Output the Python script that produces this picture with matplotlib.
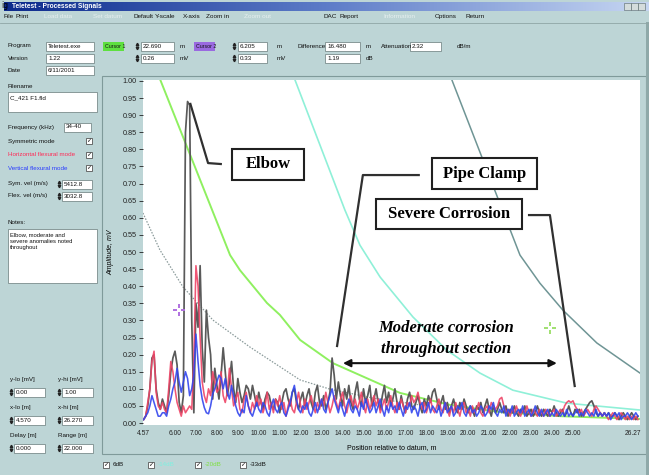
import numpy as np
import matplotlib
matplotlib.use("Agg")
import matplotlib.pyplot as plt
import matplotlib.patches as patches
from matplotlib.colors import LinearSegmentedColormap

# ---------------- data ----------------
pos_start, pos_step = 4.5, 0.1   # trace sampling, m

# symmetric mode (grey/black trace), mV
sym_amp = [
    0.01, 0.02, 0.05, 0.10, 0.19, 0.20, 0.10, 0.06, 0.04, 0.07,
    0.05, 0.03, 0.08, 0.15, 0.19, 0.21, 0.17, 0.06, 0.03, 0.08,
    0.85, 0.94, 0.93, 0.30, 0.03, 0.35, 0.28, 0.46, 0.22, 0.12,
    0.33, 0.25, 0.20, 0.07, 0.16, 0.11, 0.07, 0.14, 0.22, 0.15,
    0.08, 0.12, 0.18, 0.10, 0.06, 0.13, 0.09, 0.06, 0.08, 0.11,
    0.10, 0.07, 0.11, 0.08, 0.05, 0.09, 0.06, 0.04, 0.07, 0.09,
    0.08, 0.05, 0.04, 0.07, 0.06, 0.03, 0.06, 0.09, 0.10, 0.07,
    0.05, 0.09, 0.10, 0.06, 0.04, 0.07, 0.09, 0.05, 0.08, 0.10,
    0.06, 0.04, 0.09, 0.11, 0.06, 0.05, 0.08, 0.04, 0.06, 0.09,
    0.19, 0.14, 0.07, 0.12, 0.08, 0.05, 0.10, 0.07, 0.11, 0.06,
    0.04, 0.09, 0.12, 0.07, 0.05, 0.10, 0.06, 0.08, 0.11, 0.05,
    0.07, 0.10, 0.06, 0.04, 0.08, 0.11, 0.06, 0.09, 0.05, 0.07,
    0.10, 0.06, 0.04, 0.08, 0.05, 0.03, 0.07, 0.09, 0.05, 0.04,
    0.06, 0.08, 0.05, 0.03, 0.07, 0.05, 0.08, 0.06, 0.09, 0.10,
    0.07, 0.04, 0.06, 0.08, 0.04, 0.06, 0.03, 0.05, 0.07, 0.04,
    0.03, 0.06, 0.04, 0.07, 0.05, 0.03, 0.05, 0.04, 0.02, 0.05,
    0.04, 0.06, 0.03, 0.05, 0.07, 0.04, 0.02, 0.05, 0.03, 0.04,
    0.06, 0.04, 0.03, 0.05, 0.02, 0.04, 0.03, 0.05, 0.03, 0.02,
    0.04, 0.03, 0.05, 0.02, 0.03, 0.04, 0.02, 0.03, 0.05, 0.03,
    0.02, 0.04, 0.03, 0.02, 0.04, 0.03, 0.05, 0.03, 0.02, 0.03,
    0.04, 0.02, 0.03, 0.05, 0.03, 0.02, 0.04, 0.03, 0.04, 0.02,
    0.03, 0.04, 0.05, 0.06, 0.065, 0.05, 0.03, 0.02, 0.03, 0.02,
    0.03, 0.02, 0.03, 0.02, 0.02, 0.03, 0.02, 0.01, 0.02, 0.03,
    0.02, 0.01, 0.02, 0.03, 0.02, 0.01, 0.02,
]

# horizontal flexural mode (red trace), mV
hor_amp = [
    0.01, 0.02, 0.06, 0.10, 0.18, 0.21, 0.09, 0.05, 0.04, 0.06,
    0.04, 0.03, 0.10, 0.18, 0.15, 0.10, 0.06, 0.04, 0.02, 0.05,
    0.03, 0.04, 0.05, 0.04, 0.18, 0.46, 0.40, 0.25, 0.12, 0.08,
    0.06, 0.10, 0.08, 0.15, 0.12, 0.09, 0.10, 0.15, 0.08, 0.06,
    0.09, 0.16, 0.10, 0.05, 0.07, 0.09, 0.04, 0.03, 0.07, 0.09,
    0.05, 0.03, 0.06, 0.04, 0.08, 0.05, 0.07, 0.03, 0.05, 0.09,
    0.04, 0.06, 0.03, 0.07, 0.05, 0.08, 0.04, 0.06, 0.02, 0.05,
    0.07, 0.04, 0.03, 0.06, 0.09, 0.05, 0.03, 0.07, 0.04, 0.06,
    0.08, 0.05, 0.03, 0.06, 0.04, 0.07, 0.05, 0.09, 0.06, 0.03,
    0.05, 0.08, 0.06, 0.04, 0.07, 0.09, 0.05, 0.03, 0.06, 0.08,
    0.05, 0.07, 0.04, 0.06, 0.09, 0.05, 0.03, 0.07, 0.04, 0.06,
    0.08, 0.05, 0.07, 0.03, 0.05, 0.07, 0.04, 0.06, 0.08, 0.05,
    0.03, 0.06, 0.04, 0.07, 0.05, 0.03, 0.06, 0.05, 0.08, 0.06,
    0.07, 0.09, 0.06, 0.04, 0.06, 0.03, 0.05, 0.07, 0.04, 0.03,
    0.05, 0.07, 0.04, 0.03, 0.06, 0.04, 0.02, 0.05, 0.03, 0.06,
    0.04, 0.02, 0.05, 0.06, 0.03, 0.04, 0.02, 0.05, 0.03, 0.04,
    0.06, 0.03, 0.02, 0.04, 0.05, 0.03, 0.06, 0.05, 0.04, 0.05,
    0.07, 0.075, 0.05, 0.03, 0.04, 0.02, 0.04, 0.03, 0.05, 0.03,
    0.02, 0.04, 0.03, 0.05, 0.03, 0.02, 0.04, 0.03, 0.02, 0.04,
    0.03, 0.02, 0.04, 0.03, 0.02, 0.03, 0.04, 0.02, 0.03, 0.04,
    0.03, 0.05, 0.06, 0.065, 0.06, 0.065, 0.05, 0.04, 0.03, 0.04,
    0.02, 0.03, 0.04, 0.03, 0.02, 0.04, 0.05, 0.04, 0.03, 0.02,
    0.03, 0.02, 0.01, 0.02, 0.03, 0.02, 0.01, 0.02, 0.03, 0.02,
    0.01, 0.02, 0.01, 0.02, 0.01, 0.02, 0.01,
]

# vertical flexural mode (blue trace), mV
ver_amp = [
    0.01, 0.02, 0.03, 0.05, 0.08, 0.06, 0.04, 0.02, 0.02, 0.03,
    0.03, 0.02, 0.05, 0.07, 0.10, 0.12, 0.16, 0.12, 0.09, 0.12,
    0.15, 0.13, 0.08, 0.10, 0.14, 0.26, 0.18, 0.11, 0.07, 0.045,
    0.03, 0.027, 0.05, 0.085, 0.10, 0.12, 0.14, 0.13, 0.10, 0.13,
    0.09, 0.07, 0.11, 0.08, 0.05, 0.03, 0.02, 0.04, 0.03, 0.08,
    0.05, 0.03, 0.02, 0.04, 0.06, 0.04, 0.03, 0.06, 0.05, 0.03,
    0.02, 0.05, 0.07, 0.04, 0.03, 0.05, 0.06, 0.03, 0.02, 0.04,
    0.06, 0.09, 0.11, 0.07, 0.04, 0.03, 0.05, 0.04, 0.06, 0.03,
    0.02, 0.04, 0.06, 0.03, 0.05, 0.07, 0.04, 0.03, 0.06, 0.08,
    0.10, 0.07, 0.05, 0.03, 0.06, 0.04, 0.02, 0.05, 0.07, 0.04,
    0.03, 0.05, 0.04, 0.02, 0.06, 0.04, 0.07, 0.05, 0.03, 0.04,
    0.06, 0.03, 0.05, 0.07, 0.04, 0.02, 0.05, 0.03, 0.06, 0.04,
    0.05, 0.03, 0.06, 0.04, 0.02, 0.05, 0.04, 0.06, 0.03, 0.05,
    0.04, 0.02, 0.05, 0.06, 0.03, 0.04, 0.06, 0.03, 0.05, 0.04,
    0.03, 0.05, 0.02, 0.04, 0.06, 0.03, 0.04, 0.05, 0.02, 0.03,
    0.05, 0.04, 0.06, 0.03, 0.02, 0.04, 0.05, 0.03, 0.04, 0.02,
    0.03, 0.05, 0.04, 0.02, 0.03, 0.05, 0.04, 0.06, 0.03, 0.02,
    0.04, 0.03, 0.05, 0.02, 0.04, 0.03, 0.05, 0.02, 0.03, 0.04,
    0.03, 0.05, 0.02, 0.03, 0.04, 0.02, 0.03, 0.05, 0.03, 0.02,
    0.04, 0.02, 0.03, 0.04, 0.02, 0.03, 0.02, 0.04, 0.03, 0.02,
    0.03, 0.02, 0.04, 0.02, 0.03, 0.02, 0.03, 0.04, 0.02, 0.03,
    0.02, 0.04, 0.03, 0.02, 0.03, 0.02, 0.04, 0.02, 0.03, 0.02,
    0.03, 0.02, 0.03, 0.01, 0.02, 0.03, 0.02, 0.03, 0.01, 0.02,
    0.02, 0.03, 0.02, 0.01, 0.02, 0.03, 0.02,
]

# DAC / threshold curves (position m, amplitude mV)
green_pos = [5.19, 8.63, 9.10, 10.39, 11.01, 11.97, 13.54, 16.74, 19.13, 21.51, 24.38, 28.2]
green_amp = [1.02, 0.491, 0.447, 0.351, 0.316, 0.243, 0.175, 0.088, 0.053, 0.032, 0.020, 0.012]
cyan_pos = [11.73, 12.92, 14.11, 14.83, 15.79, 17.36, 18.98, 20.56, 22.13, 24.71, 28.2]
cyan_amp = [1.003, 0.813, 0.623, 0.520, 0.427, 0.310, 0.213, 0.146, 0.096, 0.058, 0.038]
teal_pos = [19.22, 20.80, 22.47, 23.42, 24.52, 26.14, 28.2]
teal_amp = [1.003, 0.754, 0.491, 0.409, 0.330, 0.234, 0.146]
dot_pos = [4.47, 5.28, 6.38, 7.81, 9.58, 11.97, 13.40, 15.45, 17.69]
dot_amp = [0.614, 0.506, 0.398, 0.301, 0.222, 0.126, 0.099, 0.073, 0.053]

cursor1 = (23.9, 0.278)
cursor2 = (6.2, 0.33)

xtick_pos = [4.473] + list(range(6, 26)) + [27.86]
xtick_lab = ["4.57"] + [f"{v:.2f}" for v in range(6, 26)] + ["26.27"]

BG = "#bdd5d6"
UIFONT = "Liberation Sans"

fig = plt.figure(figsize=(6.49, 4.75), dpi=100)
fig.patch.set_facecolor(BG)

# ---------------- window chrome (pixel coords) ----------------
bg = fig.add_axes([0, 0, 1, 1], zorder=0)
tb = LinearSegmentedColormap.from_list("tb", ["#0c2a8c", "#5d7cc8", "#c6d6f2"])
bg.imshow(np.linspace(0, 1, 256).reshape(1, -1), extent=(4, 649, 11, 2),
          cmap=tb, aspect="auto")
bg.set_xlim(0, 649)
bg.set_ylim(475, 0)
bg.axis("off")


def label(x, y, s, size=4.5, color="#111111", **kw):
    bg.text(x, y, s, fontsize=size, color=color, va="center", ha="left",
            family=UIFONT, **kw)


def field(x, y, w, h, s=""):
    bg.add_patch(patches.Rectangle((x, y), w, h, facecolor="white",
                                   edgecolor="#7a8c8c", lw=0.6))
    if s:
        label(x + 2, y + h / 2, s)


def spinner(x, y):
    bg.plot([x], [y - 2], marker="^", ms=1.8, color="#222222")
    bg.plot([x], [y + 2], marker="v", ms=1.8, color="#222222")


def checkbox(x, y):
    bg.add_patch(patches.Rectangle((x, y - 3), 6, 6, facecolor="white",
                                   edgecolor="#555555", lw=0.6))
    bg.text(x + 3, y, "\u2713", fontsize=4.5, ha="center", va="center",
            family="DejaVu Sans", color="#111111")


bg.text(1, 1, "ig", fontsize=5.5, va="top", ha="left", color="black")
label(12, 6.5, "Teletest - Processed Signals", size=4.8, color="white",
      weight="bold")
for bx in (624, 631, 638):
    bg.add_patch(patches.Rectangle((bx, 3), 6.5, 6.5, facecolor="#d4dcdc",
                                   edgecolor="#556666", lw=0.4))

menu = [("File", 3, True), ("Print", 15, True), ("Load data", 44, False),
        ("Set datum", 93, False), ("Default", 133, True), ("Y-scale", 155, True),
        ("X-axis", 183, True), ("Zoom in", 206, True), ("Zoom out", 244, False),
        ("DAC", 323, True), ("Report", 339, True), ("Information", 383, False),
        ("Options", 435, True), ("Return", 466, True)]
for name, mx, active in menu:
    label(mx, 16.5, name, size=4.6, color="#111111" if active else "#e6efef")
bg.plot([0, 649], [22.5, 22.5], color="#8fa6a6", lw=0.6)

# top information rows
label(8, 46, "Program"); field(46, 41.5, 48, 9, "Teletest.exe")
label(8, 58, "Version"); field(46, 53.5, 48, 9, "1.22")
label(8, 70, "Date"); field(46, 65.5, 48, 9, "6/11/2001")

bg.add_patch(patches.Rectangle((103, 41.5), 21, 9, facecolor="#5ee040",
                               edgecolor="none"))
label(105, 46, "Cursor 1", size=3.8)
spinner(137, 46); field(141, 41.5, 33, 9, "22.690"); label(180, 46, "m")
spinner(137, 58); field(141, 53.5, 33, 9, "0.26"); label(180, 58, "mV")
bg.add_patch(patches.Rectangle((194, 41.5), 21, 9, facecolor="#9a6ae0",
                               edgecolor="none"))
label(196, 46, "Cursor 2", size=3.8)
spinner(234, 46); field(238, 41.5, 29, 9, "6.205"); label(277, 46, "m")
spinner(234, 58); field(238, 53.5, 29, 9, "0.33"); label(277, 58, "mV")
label(297, 46, "Difference"); field(325, 41.5, 35, 9, "16.480"); label(366, 46, "m")
field(325, 53.5, 35, 9, "1.19"); label(366, 58, "dB")
label(381, 46, "Attenuation"); field(410, 41.5, 31, 9, "2.32"); label(457, 46, "dB/m")

# left side panel
label(8, 86, "Filename")
field(8, 92, 89, 20, "")
label(10, 98, "C_421 F1.fld")
label(8, 127, "Frequency (kHz)"); field(64, 122.5, 27, 9, "34-40")
label(8, 141, "Symmetric mode"); checkbox(86, 141)
label(8, 155, "Horizontal flexural mode", color="#ff2a55"); checkbox(86, 155)
label(8, 168, "Vertical flexural mode", color="#2a3cff"); checkbox(86, 168)
label(8, 184, "Sym. vel (m/s)"); spinner(59, 184); field(62, 179.5, 30, 9, "5412.8")
label(8, 196, "Flex. vel (m/s)"); spinner(59, 196); field(62, 191.5, 30, 9, "3032.8")
label(8, 222, "Notes:")
field(8, 229, 89, 54, "")
for i, line in enumerate(["Elbow, moderate and", "severe anomalies noted",
                          "throughout"]):
    label(10, 235 + 6.5 * i, line, size=4.2)

lower = [("y-lo [mV]", "0.00", "y-hi [mV]", "1.00", 379),
         ("x-lo [m]", "4.570", "x-hi [m]", "26.270", 407),
         ("Delay [m]", "0.000", "Range [m]", "22.000", 435)]
for la, va, lb, vb, yy in lower:
    label(10, yy, la); label(58, yy, lb)
    spinner(11, yy + 13); field(14, yy + 8.5, 31, 9, va)
    spinner(59, yy + 13); field(62, yy + 8.5, 31, 9, vb)

# plot panel frame
bg.add_patch(patches.Rectangle((102, 76), 544, 378, facecolor="none",
                               edgecolor="#7f9a9a", lw=0.8))
bg.add_patch(patches.Rectangle((646, 22), 3, 453, facecolor="#8fa9a9",
                               edgecolor="none"))

# curve checkboxes under the plot
for cx, txt, tc in [(103, "6dB", "#111111"), (148, "-14dB", "#7ff0e0"),
                    (195, "-20dB", "#7ee040"), (240, "-33dB", "#111111")]:
    checkbox(cx, 465)
    label(cx + 10, 465, txt, color=tc)

# ---------------- plot area ----------------
ax = fig.add_axes([143 / 649, 1 - 425 / 475, 497 / 649, 345 / 475], zorder=1)
ax.set_facecolor("white")
pos = pos_start + pos_step * np.arange(len(sym_amp))

ax.plot(dot_pos, dot_amp, color="#8a9a9a", lw=0.9, ls=(0, (1.2, 1.2)))
ax.plot(green_pos, green_amp, color="#8ff060", lw=1.4)
ax.plot(cyan_pos, cyan_amp, color="#8ff0d8", lw=1.2)
ax.plot(teal_pos, teal_amp, color="#6f9595", lw=1.1)

ax.plot(pos, sym_amp, color="#5a5a5a", lw=1.25)
ax.plot(pos, hor_amp, color="#ee4466", lw=1.15, alpha=0.9)
ax.plot(pos, ver_amp, color="#3346ee", lw=1.15, alpha=0.9)

for (cx, cy), cc in ((cursor2, "#b070e0"), (cursor1, "#a0e070")):
    ax.plot(cx, cy, marker="+", ms=9, mew=1.4, color=cc)
    ax.plot(cx, cy, marker="s", ms=2.4, color="white", mew=0)

# annotations
lead = dict(color="#303030", lw=1.6, solid_capstyle="butt")
ax.plot([6.72, 7.58, 8.24], [0.936, 0.760, 0.757], **lead)
ax.plot([13.73, 14.97, 17.69], [0.222, 0.725, 0.725], **lead)
ax.plot([22.85, 23.90, 25.09], [0.608, 0.608, 0.105], **lead)

boxes = [("Elbow", 8.72, 12.16, 0.711, 0.801),
         ("Pipe Clamp", 18.27, 23.28, 0.684, 0.775),
         ("Severe Corrosion", 15.59, 22.56, 0.567, 0.655)]
for txt, x0, x1, y0, y1 in boxes:
    ax.add_patch(patches.Rectangle((x0, y0), x1 - x0, y1 - y0, facecolor="white",
                                   edgecolor="#202020", lw=1.5, zorder=4))
    ax.text((x0 + x1) / 2, (y0 + y1) / 2, txt, ha="center", va="center",
            family="Liberation Serif", weight="bold", fontsize=12, zorder=5)

ax.text(18.94, 0.278, "Moderate corrosion", ha="center", va="center",
        family="Liberation Serif", weight="bold", style="italic", fontsize=12)
ax.text(18.94, 0.216, "throughout section", ha="center", va="center",
        family="Liberation Serif", weight="bold", style="italic", fontsize=12)
ax.annotate("", xy=(24.23, 0.175), xytext=(14.02, 0.175),
            arrowprops=dict(arrowstyle="<|-|>", color="#111111", lw=1.5,
                            mutation_scale=11, shrinkA=0, shrinkB=0))

ax.set_xlim(4.473, 28.2)
ax.set_ylim(-0.0058, 1.0029)
yt = np.round(np.arange(0, 1.0001, 0.05), 2)
ax.set_yticks(yt)
ax.set_yticklabels([f"{v:.2f}" for v in yt], family=UIFONT)
ax.set_xticks(xtick_pos)
ax.set_xticklabels(xtick_lab, family=UIFONT)
ax.tick_params(axis="y", direction="out", length=3, width=0.6, pad=1.5,
               labelsize=5.2, colors="#222222")
ax.tick_params(axis="x", length=0, pad=3.5, labelsize=4.8, colors="#222222")
for s in ax.spines.values():
    s.set_visible(False)
ax.set_xlabel("Position relative to datum, m", fontsize=5, family=UIFONT)
ax.xaxis.set_label_coords(0.5, -0.055)
ax.set_ylabel("Amplitude, mV", fontsize=5, family=UIFONT, style="italic")
ax.yaxis.set_label_coords(-0.058, 0.5)

fig.savefig("out.png", dpi=100, facecolor=BG)
